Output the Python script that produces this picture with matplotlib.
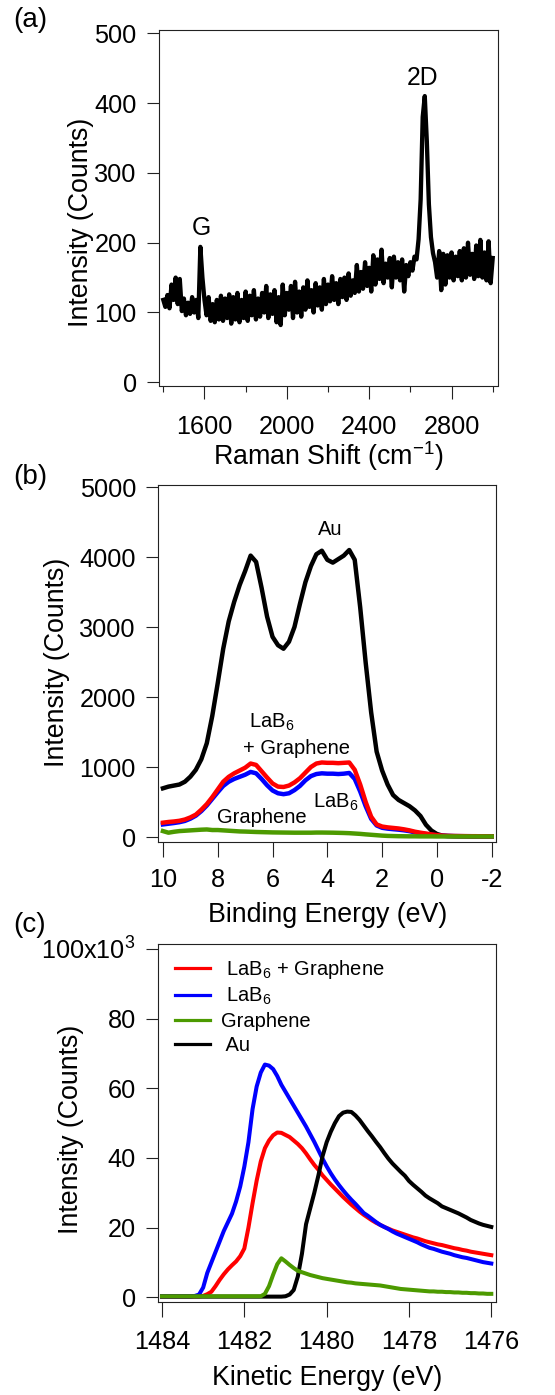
import matplotlib
matplotlib.use('Agg')
import matplotlib.pyplot as plt
import numpy as np

plt.rcParams.update({
    'font.family': ['Liberation Sans', 'DejaVu Sans'],
    'mathtext.fontset': 'custom',
    'mathtext.rm': 'Liberation Sans',
    'mathtext.it': 'Liberation Sans:italic',
    'mathtext.bf': 'Liberation Sans:bold',
    'mathtext.sf': 'Liberation Sans',
    'mathtext.default': 'regular',
    'axes.unicode_minus': False,
})

# ---------------- data ----------------
# (a) Raman spectrum, 1400..3000 cm-1 every 10 cm-1
raman_shift = np.arange(1400, 3001, 10)
raman_counts = [
    118, 108, 125, 106, 140, 118, 150, 112, 148, 102,
    120, 96, 114, 98, 122, 100, 118, 92, 194, 150,
    118, 96, 122, 88, 112, 86, 118, 90, 124, 88,
    120, 92, 126, 84, 122, 90, 128, 86, 118, 92,
    130, 88, 124, 96, 132, 90, 120, 94, 128, 100,
    138, 92, 126, 98, 132, 86, 122, 82, 140, 96,
    128, 104, 138, 92, 144, 100, 130, 94, 136, 104,
    146, 108, 132, 100, 142, 110, 136, 104, 148, 112,
    140, 116, 152, 118, 142, 112, 148, 122, 150, 118,
    156, 124, 146, 128, 168, 130, 158, 134, 172, 138,
    164, 130, 182, 140, 176, 148, 190, 142, 170, 150,
    178, 136, 180, 150, 172, 146, 176, 130, 168, 152,
    172, 160, 180, 176, 205, 262, 380, 410, 345, 255,
    208, 185, 172, 150, 188, 132, 184, 140, 182, 150,
    186, 146, 180, 152, 188, 146, 192, 150, 200, 154,
    184, 148, 196, 152, 204, 150, 186, 146, 202, 142,
    178,
]
raman_peaks = ['G', '2D']
raman_peak_pos = [1583, 2659]
raman_peak_y = [211, 426]

# (b) valence band, binding energy 10 .. -2 eV every 0.2 eV
binding_energy = np.round(np.linspace(10.0, -2.0, 61), 2)
vb_au = [
    696, 720, 735, 750, 790, 862, 960, 1110, 1340, 1730,
    2200, 2690, 3080, 3360, 3600, 3800, 4020, 3930, 3560, 3150,
    2860, 2740, 2690, 2790, 3000, 3330, 3640, 3870, 4040, 4090,
    3960, 3920, 3970, 4020, 4100, 3960, 3280, 2490, 1780, 1220,
    950, 750, 600, 530, 485, 440, 380, 300, 175, 92,
    43, 20, 15, 12, 10, 10, 8, 8, 8, 8,
    8,
]
vb_lab6_graphene = [
    205, 215, 222, 232, 250, 280, 320, 390, 470, 570,
    680, 790, 860, 910, 950, 990, 1050, 1030, 940, 850,
    765, 720, 715, 735, 780, 840, 920, 1000, 1050, 1065,
    1060, 1060, 1055, 1060, 1065, 960, 750, 500, 290, 180,
    150, 138, 130, 122, 110, 95, 76, 62, 50, 38,
    28, 20, 16, 15, 14, 13, 12, 12, 11, 11,
    10,
]
vb_lab6 = [
    180, 190, 200, 212, 230, 262, 305, 370, 450, 545,
    640, 730, 790, 830, 860, 890, 930, 910, 830, 740,
    665, 625, 612, 625, 670, 730, 810, 870, 900, 910,
    905, 905, 900, 905, 915, 830, 650, 440, 260, 165,
    132, 120, 112, 105, 96, 84, 66, 52, 42, 32,
    24, 18, 15, 14, 13, 12, 12, 11, 11, 10,
    10,
]
vb_graphene = [
    85, 62, 75, 85, 90, 95, 100, 105, 108, 100,
    100, 95, 90, 85, 80, 78, 75, 72, 70, 68,
    66, 65, 64, 63, 62, 62, 62, 62, 64, 64,
    63, 62, 60, 58, 55, 50, 45, 38, 32, 26,
    20, 16, 14, 12, 11, 10, 10, 9, 9, 9,
    8, 8, 8, 8, 8, 8, 8, 8, 8, 8,
    8,
]

# (c) secondary electron cut-off, kinetic energy 1484 .. 1476 eV every 0.1 eV (x10^3 counts)
kinetic_energy = np.round(np.linspace(1484.0, 1476.0, 81), 2)
se_lab6_graphene = [
    0.3, 0.3, 0.3, 0.3, 0.3, 0.3, 0.3, 0.3, 0.3, 0.3,
    0.4, 0.9, 1.6, 3.2, 5.0, 6.6, 8.0, 9.2, 10.3, 11.8,
    14.0, 20.0, 27.0, 33.5, 39.0, 42.8, 45.0, 46.5, 47.3, 47.2,
    46.6, 46.0, 45.0, 44.0, 42.8, 41.3, 39.6, 38.0, 36.6, 35.0,
    33.7, 32.4, 31.2, 30.0, 28.8, 27.7, 26.6, 25.6, 24.6, 23.7,
    22.9, 22.1, 21.4, 20.8, 20.2, 19.7, 19.2, 18.8, 18.4, 18.0,
    17.6, 17.2, 16.9, 16.5, 16.1, 15.8, 15.5, 15.2, 15.0, 14.7,
    14.4, 14.1, 13.9, 13.6, 13.4, 13.1, 12.9, 12.7, 12.5, 12.3,
    12.1,
]
se_lab6 = [
    0.3, 0.3, 0.3, 0.3, 0.3, 0.3, 0.3, 0.3, 0.4, 0.8,
    2.8, 7.0, 10.0, 13.0, 16.0, 19.0, 21.5, 24.0, 27.5, 31.8,
    37.5, 44.5, 54.0, 60.5, 64.5, 66.8, 66.5, 65.5, 63.5, 61.0,
    59.0, 57.0, 55.0, 53.0, 51.0, 49.0, 46.8, 44.6, 42.2, 39.8,
    37.6, 35.6, 33.8, 32.2, 30.7, 29.3, 28.0, 26.8, 25.5, 24.2,
    23.4, 22.5, 21.6, 20.8, 20.2, 19.6, 18.9, 18.3, 17.8, 17.3,
    16.8, 16.3, 15.8, 15.2, 14.7, 14.2, 13.9, 13.5, 13.1, 12.8,
    12.5, 12.1, 11.8, 11.5, 11.3, 11.0, 10.7, 10.4, 10.1, 9.9,
    9.7,
]
se_graphene = [
    0.3, 0.3, 0.3, 0.3, 0.3, 0.3, 0.3, 0.3, 0.3, 0.3,
    0.3, 0.3, 0.3, 0.3, 0.3, 0.3, 0.3, 0.3, 0.3, 0.3,
    0.3, 0.3, 0.3, 0.3, 0.3, 1.0, 3.2, 6.5, 9.5, 11.2,
    10.3, 9.3, 8.4, 7.6, 7.2, 6.8, 6.4, 6.1, 5.8, 5.5,
    5.3, 5.1, 4.9, 4.7, 4.5, 4.3, 4.2, 4.0, 3.9, 3.8,
    3.7, 3.6, 3.5, 3.4, 3.2, 3.0, 2.8, 2.6, 2.4, 2.3,
    2.2, 2.1, 2.0, 1.9, 1.8, 1.7, 1.7, 1.6, 1.6, 1.5,
    1.5, 1.4, 1.4, 1.3, 1.3, 1.2, 1.2, 1.1, 1.1, 1.0,
    1.0,
]
se_au = [
    0.2, 0.2, 0.2, 0.2, 0.2, 0.2, 0.2, 0.2, 0.2, 0.2,
    0.2, 0.2, 0.2, 0.2, 0.2, 0.2, 0.2, 0.2, 0.2, 0.2,
    0.2, 0.2, 0.2, 0.2, 0.2, 0.2, 0.2, 0.2, 0.2, 0.2,
    0.3, 0.8, 2.1, 6.0, 12.5, 21.0, 25.5, 30.0, 35.0, 40.5,
    44.5, 47.5, 50.0, 52.0, 53.0, 53.3, 53.2, 52.2, 50.9, 49.3,
    47.7, 46.2, 44.6, 43.1, 41.4, 39.8, 38.4, 37.2, 36.0, 34.9,
    33.4, 32.3, 31.3, 30.3, 29.2, 28.4, 27.7, 27.0, 26.1, 25.6,
    25.1, 24.6, 24.1, 23.5, 22.9, 22.2, 21.7, 21.2, 20.8, 20.5,
    20.2,
]

series_names = ['LaB$_6$ + Graphene', 'LaB$_6$', 'Graphene', 'Au']
series_colors = ['#ff0000', '#0000ff', '#4c9a00', '#000000']

# ---------------- figure ----------------
W, H = 555, 1395
fig = plt.figure(figsize=(W / 100, H / 100), dpi=100)


def px_axes(frame):
    left, top, right, bottom = frame
    return fig.add_axes([left / W, 1 - bottom / H, (right - left) / W, (bottom - top) / H])


TICK_FS = 18.2
LABEL_FS = 19.3
ANN_FS = 14.5
SP = '#222222'


def style(ax, xlen, xpad):
    for s in ax.spines.values():
        s.set_linewidth(0.8)
        s.set_color(SP)
    ax.tick_params(axis='y', which='major', direction='out', length=8.9, width=0.8,
                   pad=7.2, labelsize=TICK_FS, color=SP, right=False)
    ax.tick_params(axis='x', which='major', direction='out', length=xlen, width=0.8,
                   pad=xpad, labelsize=TICK_FS, color=SP, top=False)


def place_labels(ax, frame, xlab_base, ylab_c):
    left, top, right, bottom = frame
    w, h = right - left, bottom - top
    ax.xaxis.label.set_va('baseline')
    ax.xaxis.set_label_coords(0.5, (bottom - xlab_base) / h)
    ax.yaxis.label.set_va('center')
    ax.yaxis.set_label_coords((ylab_c[0] - left) / w, (bottom - ylab_c[1]) / h)


# ---- (a) ----
fa = (159, 29.5, 498, 385.5)
axa = px_axes(fa)
axa.plot(raman_shift, raman_counts, color='black', lw=3.1, solid_joinstyle='round')
axa.set_xlim(1379.1, 3025.7)
axa.set_ylim(-4.6, 505.4)
axa.set_yticks([0, 100, 200, 300, 400, 500])
axa.set_xticks([1600, 2000, 2400, 2800])
axa.set_xticks([1400, 1800, 2200, 2600, 3000], minor=True)
style(axa, 9.0, 12.0)
axa.tick_params(axis='x', which='minor', direction='out', length=4.3, width=0.8, color=SP, top=False)
axa.set_xlabel('Raman Shift (cm$^{-1}$)', fontsize=LABEL_FS)
axa.set_ylabel('Intensity (Counts)', fontsize=LABEL_FS)
place_labels(axa, fa, 465, (81, 222))
for name, xp, yp in zip(raman_peaks, raman_peak_pos, raman_peak_y):
    axa.text(xp, yp, name, ha='center', va='baseline', fontsize=17.8)

# ---- (b) ----
fb = (158.3, 484.5, 496, 842)
axb = px_axes(fb)
axb.plot(binding_energy, vb_au, color=series_colors[3], lw=3.2)
axb.plot(binding_energy, vb_lab6, color=series_colors[1], lw=3.2)
axb.plot(binding_energy, vb_lab6_graphene, color=series_colors[0], lw=3.2)
axb.plot(binding_energy, vb_graphene, color=series_colors[2], lw=3.2)
axb.set_xlim(10.17, -2.157)
axb.set_ylim(-71, 5036)
axb.set_xticks([10, 8, 6, 4, 2, 0, -2])
axb.set_yticks([0, 1000, 2000, 3000, 4000, 5000])
style(axb, 10.8, 7.9)
axb.set_xlabel('Binding Energy (eV)', fontsize=LABEL_FS)
axb.set_ylabel('Intensity (Counts)', fontsize=LABEL_FS)
place_labels(axb, fb, 921.5, (57.5, 662))
axb.text(3.90, 4320, 'Au', ha='center', va='baseline', fontsize=ANN_FS)
axb.text(6.85, 1559, 'LaB$_6$', ha='left', va='baseline', fontsize=ANN_FS)
axb.text(7.07, 1187, '+ Graphene', ha='left', va='baseline', fontsize=ANN_FS)
axb.text(4.53, 415, 'LaB$_6$', ha='left', va='baseline', fontsize=ANN_FS)
axb.text(8.01, 205, 'Graphene', ha='left', va='baseline', fontsize=ANN_FS)

# ---- (c) ----
fc = (158, 944, 495.7, 1301.5)
axc = px_axes(fc)
lr, = axc.plot(kinetic_energy, se_lab6_graphene, color=series_colors[0], lw=2.9)
lb, = axc.plot(kinetic_energy, se_lab6, color=series_colors[1], lw=2.9)
lk, = axc.plot(kinetic_energy, se_au, color=series_colors[3], lw=2.9)
lg, = axc.plot(kinetic_energy, se_graphene, color=series_colors[2], lw=2.9)
axc.set_xlim(1484.097, 1475.893)
axc.set_ylim(-1.2, 101.4)
axc.set_xticks([1484, 1482, 1480, 1478, 1476])
axc.set_yticks([0, 20, 40, 60, 80, 100])
axc.set_yticklabels(['0', '20', '40', '60', '80', '100x10$^{3}$'])
style(axc, 10.8, 9.7)
axc.set_xlabel('Kinetic Energy (eV)', fontsize=LABEL_FS)
axc.set_ylabel('Intensity (Counts)', fontsize=LABEL_FS)
place_labels(axc, fc, 1385, (70.5, 1129))
leg = axc.legend(handles=[lr, lb, lg, lk],
                 labels=[' ' + series_names[0], ' ' + series_names[1], series_names[2], ' ' + series_names[3]],
                 loc='upper left', bbox_to_anchor=((175 - 158) / 337.7, 1 - (958 - 944) / 357.5),
                 frameon=False, fontsize=ANN_FS, handlelength=1.72, handletextpad=0.56,
                 labelspacing=0.25, borderpad=0, borderaxespad=0)
for ln in leg.get_lines():
    ln.set_linewidth(2.3)

# panel letters
for lab, base in zip(['(a)', '(b)', '(c)'], [27, 484, 932.5]):
    fig.text(13 / W, 1 - base / H, lab, fontsize=20, ha='left', va='baseline')

fig.savefig('out.png', dpi=100)
